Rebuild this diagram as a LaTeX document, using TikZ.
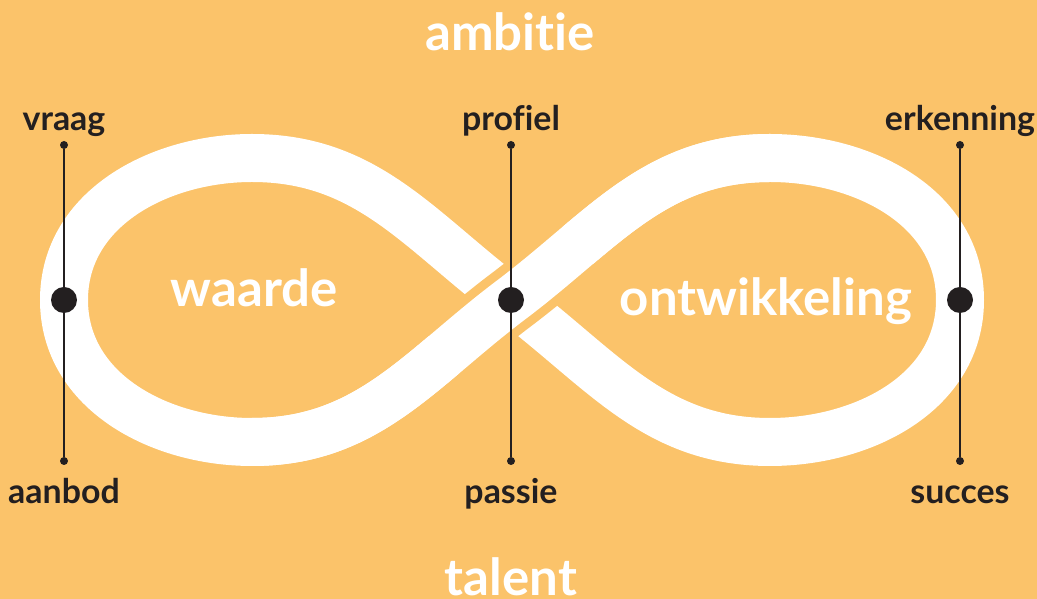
\documentclass[tikz,border=0pt]{standalone}
\usepackage{fontspec}
\setmainfont{Lato}[Ligatures=NoCommon]
\usetikzlibrary{positioning}
\definecolor{Sand}{HTML}{FBC36A}
\definecolor{Ink}{HTML}{231F20}
\tikzset{
  band/.style={draw=white, line width=0.96cm},
  gapband/.style={draw=Sand, line width=1.32cm},
  axis/.style={draw=Ink, line width=1.1pt},
  enddot/.style={circle, fill=Ink, inner sep=0pt, minimum size=0.16cm},
  hubdot/.style={circle, fill=Ink, inner sep=0pt, minimum size=0.52cm},
  tag/.style={font=\bfseries\fontsize{19.3}{22}\selectfont, text=Ink, inner sep=0pt, anchor=base},
  bigtag/.style={font=\bfseries\fontsize{29}{34}\selectfont, text=white, inner sep=0pt, anchor=base},
}

\begin{document}
\begin{tikzpicture}
  \fill[Sand] (0,0) rectangle (20.74,11.98);
  \clip (0,0) rectangle (20.74,11.98);

  % loop points
  \coordinate (c) at (10.22,5.98);
  \coordinate (rt) at (15.4,8.82);
  \coordinate (r) at (19.2,5.98);
  \coordinate (rb) at (15.4,3.14);
  \coordinate (lt) at (5.04,8.82);
  \coordinate (l) at (1.28,5.98);
  \coordinate (lb) at (5.04,3.14);

  % the band
  \draw[band] (c) to[out=37,in=180] (rt) to[out=0,in=90] (r)
    to[out=-90,in=0] (rb) to[out=180,in=-37] (c)
    to[out=143,in=0] (lt) to[out=180,in=90] (l)
    to[out=-90,in=180] (lb) to[out=0,in=-143] (c);

  % over-crossing strand
  \begin{scope}
    \clip (c) circle (1.8cm);
    \draw[gapband] (lb) to[out=0,in=-143] (c) to[out=37,in=180] (rt);
  \end{scope}
  \draw[band] (lb) to[out=0,in=-143] (c) to[out=37,in=180] (rt);

  % axes
  \node[enddot] (t1) at (1.28,9.08) {};
  \node[enddot] (b1) at (1.28,2.76) {};
  \node[enddot] (t2) at (10.22,9.08) {};
  \node[enddot] (b2) at (10.22,2.76) {};
  \node[enddot] (t3) at (19.2,9.08) {};
  \node[enddot] (b3) at (19.2,2.76) {};
  \draw[axis] (t1) -- (b1);
  \draw[axis] (t2) -- (b2);
  \draw[axis] (t3) -- (b3);
  \node[hubdot] (m1) at (l) {};
  \node[hubdot] (m2) at (c) {};
  \node[hubdot] (m3) at (r) {};

  % labels
  \node[tag] (vraag) at ([yshift=0.2cm]t1.north) {vraag};
  \node[tag] (profiel) at ([yshift=0.2cm]t2.north) {profiel};
  \node[tag] (erkenning) at ([yshift=0.2cm]t3.north) {erkenning};
  \node[tag] (aanbod) at ([yshift=-0.76cm]b1.south) {aanbod};
  \node[tag] (passie) at ([yshift=-0.76cm]b2.south) {passie};
  \node[tag] (succes) at ([yshift=-0.76cm]b3.south) {succes};

  \node[bigtag] (ambitie) at (10.2,10.96) {ambitie};
  \node[bigtag] (talent) at (10.22,0.06) {talent};
  \node[bigtag] (waarde) at (5.08,5.84) {waarde};
  \node[bigtag] (ontwikkeling) at (15.32,5.66) {ontwikkeling};
\end{tikzpicture}
\end{document}
